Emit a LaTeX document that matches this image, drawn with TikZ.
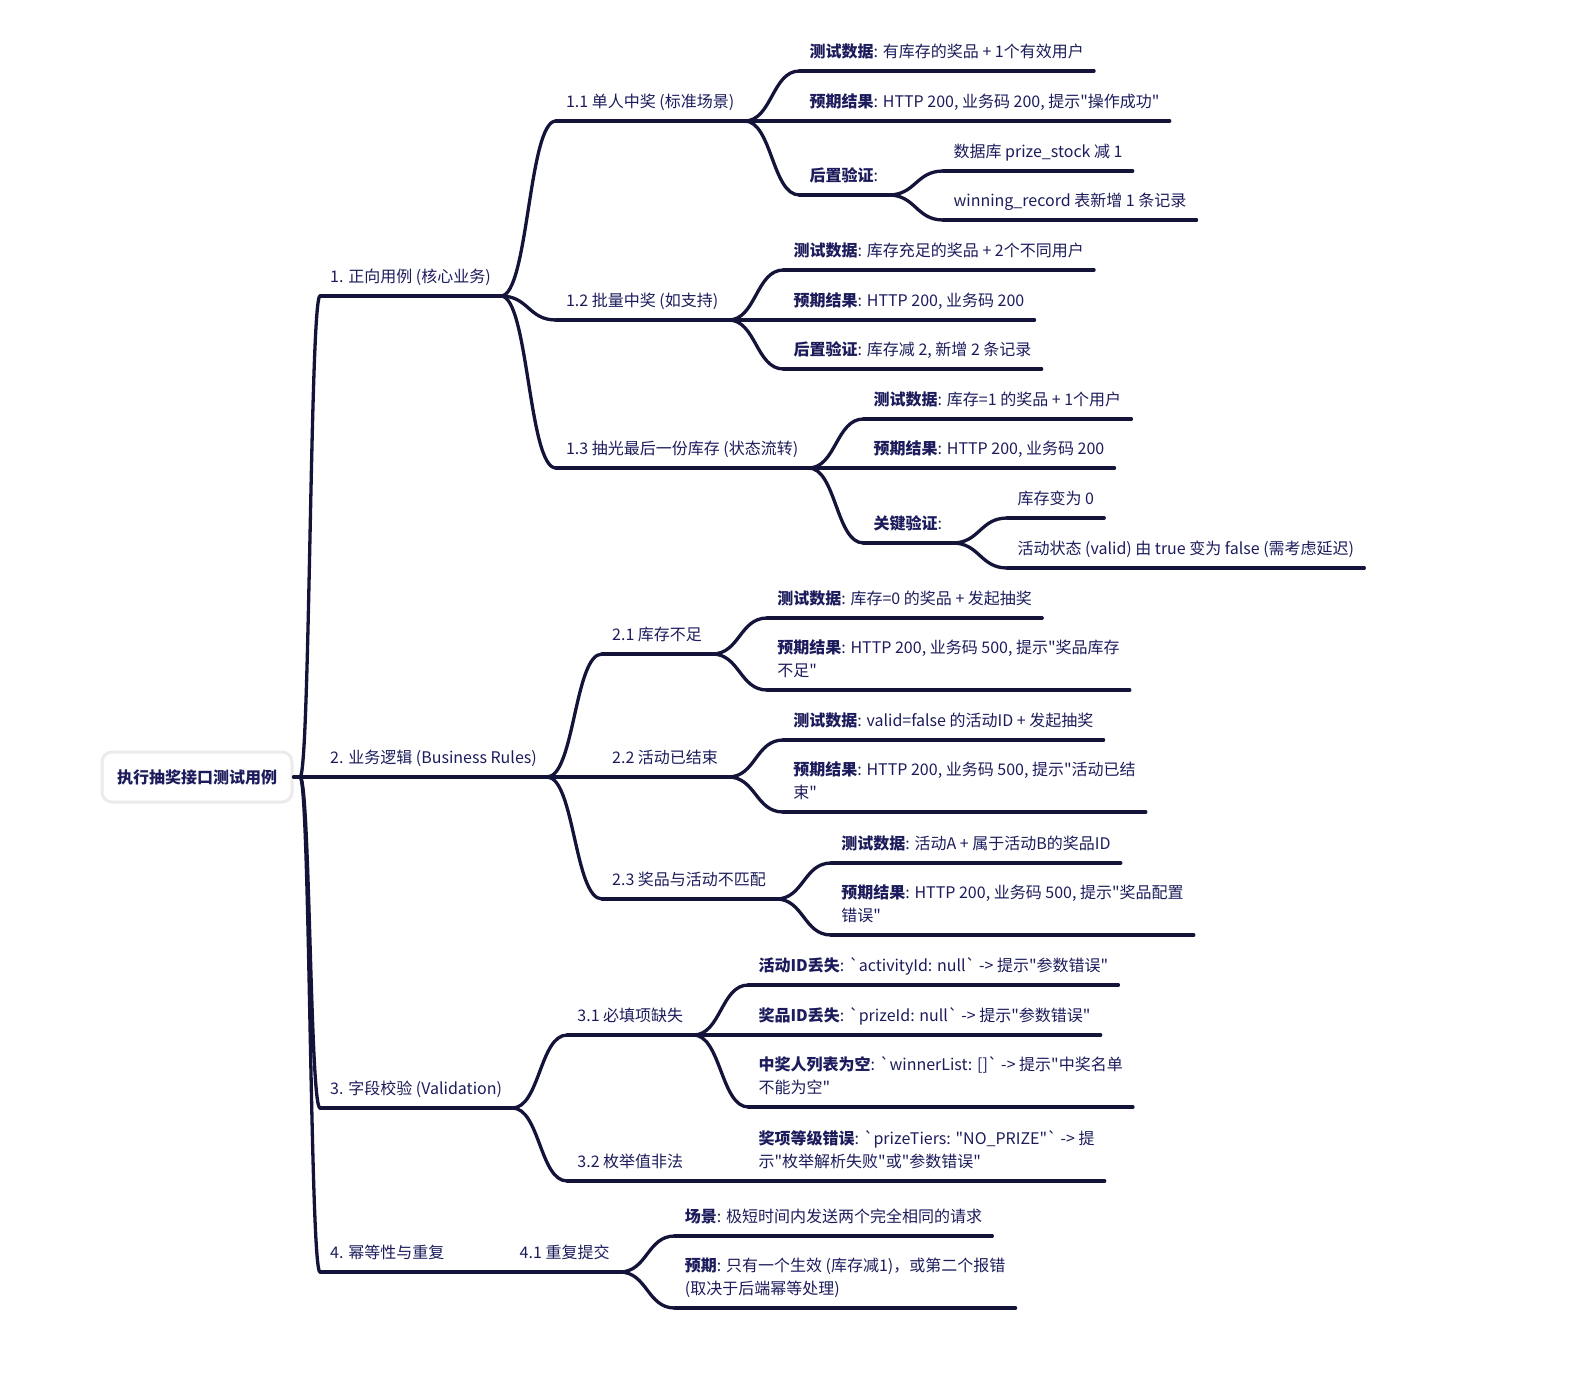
\documentclass[tikz,border=0pt]{standalone}
\usepackage{fontspec}
\newfontfamily\cjk{Noto Sans CJK SC}
\definecolor{ink}{HTML}{1C1C5C}
\definecolor{wire}{HTML}{14143A}
\definecolor{rimgray}{HTML}{EBEBEB}
\tikzset{
  topic/.style={anchor=south west, inner xsep=10pt, inner ysep=6.6pt, align=left, text=ink, execute at end node=\strut},
  rootbox/.style={draw=rimgray, line width=3pt, rounded corners=10pt, fill=white, text=ink, minimum width=190pt, minimum height=50pt},
  link/.style={draw=wire, line width=3.3pt, line cap=round, line join=round},
}
% parent -> child, both on their underlines
\newcommand{\branch}[2]{\draw[link] (#1.south east) .. controls +(27.5,0) and +(-27.5,0) .. (#2.south west);}
\begin{document}
\begin{tikzpicture}[x=1pt,y=-1pt,font=\cjk\fontsize{16}{23}\selectfont]
  \useasboundingbox (0,0) rectangle (1590,1383);
  \node[rootbox] (root) at (197,777) {\bfseries 执行抽奖接口测试用例};
  \coordinate (hub) at (300,777);
  % level 1
  \node[topic] (n1) at (320,296) {1. 正向用例 (核心业务)};
  \node[topic] (n2) at (320,777) {2. 业务逻辑 (Business Rules)};
  \node[topic] (n3) at (320,1108) {3. 字段校验 (Validation)};
  \node[topic] (n4) at (320,1272) {4. 幂等性与重复};
  % 1.x
  \node[topic] (n11) at ([shift={(55,-175)}]n1.south east) {1.1 单人中奖 (标准场景)};
  \node[topic] (n111) at ([shift={(55,-50)}]n11.south east) {\textbf{测试数据}: 有库存的奖品 + 1个有效用户};
  \node[topic] (n112) at ([shift={(55,0)}]n11.south east) {\textbf{预期结果}: HTTP 200, 业务码 200, 提示"操作成功"};
  \node[topic] (n113) at ([shift={(55,74)}]n11.south east) {\textbf{后置验证}:};
  \node[topic] (n1131) at ([shift={(55,-24)}]n113.south east) {数据库 prize\_stock 减 1};
  \node[topic] (n1132) at ([shift={(55,25)}]n113.south east) {winning\_record 表新增 1 条记录};
  \node[topic] (n12) at ([shift={(55,24)}]n1.south east) {1.2 批量中奖 (如支持)};
  \node[topic] (n121) at ([shift={(55,-50)}]n12.south east) {\textbf{测试数据}: 库存充足的奖品 + 2个不同用户};
  \node[topic] (n122) at ([shift={(55,0)}]n12.south east) {\textbf{预期结果}: HTTP 200, 业务码 200};
  \node[topic] (n123) at ([shift={(55,49)}]n12.south east) {\textbf{后置验证}: 库存减 2, 新增 2 条记录};
  \node[topic] (n13) at ([shift={(55,172)}]n1.south east) {1.3 抽光最后一份库存 (状态流转)};
  \node[topic] (n131) at ([shift={(55,-49)}]n13.south east) {\textbf{测试数据}: 库存=1 的奖品 + 1个用户};
  \node[topic] (n132) at ([shift={(55,0)}]n13.south east) {\textbf{预期结果}: HTTP 200, 业务码 200};
  \node[topic] (n133) at ([shift={(55,75)}]n13.south east) {\textbf{关键验证}:};
  \node[topic] (n1331) at ([shift={(55,-25)}]n133.south east) {库存变为 0};
  \node[topic] (n1332) at ([shift={(55,25)}]n133.south east) {活动状态 (valid) 由 true 变为 false (需考虑延迟)};
  % 2.x
  \node[topic] (n21) at ([shift={(55,-123)}]n2.south east) {2.1 库存不足};
  \node[topic] (n211) at ([shift={(55,-36)}]n21.south east) {\textbf{测试数据}: 库存=0 的奖品 + 发起抽奖};
  \node[topic] (n212) at ([shift={(55,36)}]n21.south east) {\textbf{预期结果}: HTTP 200, 业务码 500, 提示"奖品库存\\不足"};
  \node[topic] (n22) at ([shift={(55,0)}]n2.south east) {2.2 活动已结束};
  \node[topic] (n221) at ([shift={(55,-37)}]n22.south east) {\textbf{测试数据}: valid=false 的活动ID + 发起抽奖};
  \node[topic] (n222) at ([shift={(55,35)}]n22.south east) {\textbf{预期结果}: HTTP 200, 业务码 500, 提示"活动已结\\束"};
  \node[topic] (n23) at ([shift={(55,122)}]n2.south east) {2.3 奖品与活动不匹配};
  \node[topic] (n231) at ([shift={(55,-36)}]n23.south east) {\textbf{测试数据}: 活动A + 属于活动B的奖品ID};
  \node[topic] (n232) at ([shift={(55,36)}]n23.south east) {\textbf{预期结果}: HTTP 200, 业务码 500, 提示"奖品配置\\错误"};
  % 3.x
  \node[topic] (n31) at ([shift={(55,-73)}]n3.south east) {3.1 必填项缺失};
  \node[topic] (n311) at ([shift={(55,-50)}]n31.south east) {\textbf{活动ID丢失}: `activityId: null` -> 提示"参数错误"};
  \node[topic] (n312) at ([shift={(55,0)}]n31.south east) {\textbf{奖品ID丢失}: `prizeId: null` -> 提示"参数错误"};
  \node[topic] (n313) at ([shift={(55,72)}]n31.south east) {\textbf{中奖人列表为空}: `winnerList: []` -> 提示"中奖名单\\不能为空"};
  \node[topic] (n32) at ([shift={(55,73)}]n3.south east) {3.2 枚举值非法};
  \node[topic] (n321) at ([shift={(55,0)}]n32.south east) {\textbf{奖项等级错误}: `prizeTiers: "NO\_PRIZE"` -> 提\\示"枚举解析失败"或"参数错误"};
  % 4.x
  \node[topic] (n41) at ([shift={(55,0)}]n4.south east) {4.1 重复提交};
  \node[topic] (n411) at ([shift={(55,-36)}]n41.south east) {\textbf{场景}: 极短时间内发送两个完全相同的请求};
  \node[topic] (n412) at ([shift={(55,36)}]n41.south east) {\textbf{预期}: 只有一个生效 (库存减1)，或第二个报错\\(取决于后端幂等处理)};
  % underlines
  \foreach \n in {n1,n2,n3,n4,n11,n111,n112,n113,n1131,n1132,n12,n121,n122,n123,n13,n131,n132,n133,n1331,n1332,
      n21,n211,n212,n22,n221,n222,n23,n231,n232,n31,n311,n312,n313,n32,n321,n41,n411,n412}
    \draw[link] (\n.south west) -- (\n.south east);
  % connectors
  \draw[link] (root.east) -- (hub);
  \foreach \c in {n1,n2,n3,n4}
    \draw[link] (hub) .. controls +(10,0) and +(-10,0) .. (\c.south west);
  \foreach \p/\c in {n1/n11,n1/n12,n1/n13,n11/n111,n11/n112,n11/n113,n113/n1131,n113/n1132,
      n12/n121,n12/n122,n12/n123,n13/n131,n13/n132,n13/n133,n133/n1331,n133/n1332,
      n2/n21,n2/n22,n2/n23,n21/n211,n21/n212,n22/n221,n22/n222,n23/n231,n23/n232,
      n3/n31,n3/n32,n31/n311,n31/n312,n31/n313,n32/n321,n4/n41,n41/n411,n41/n412}
    {\branch{\p}{\c}}
\end{tikzpicture}
\end{document}
